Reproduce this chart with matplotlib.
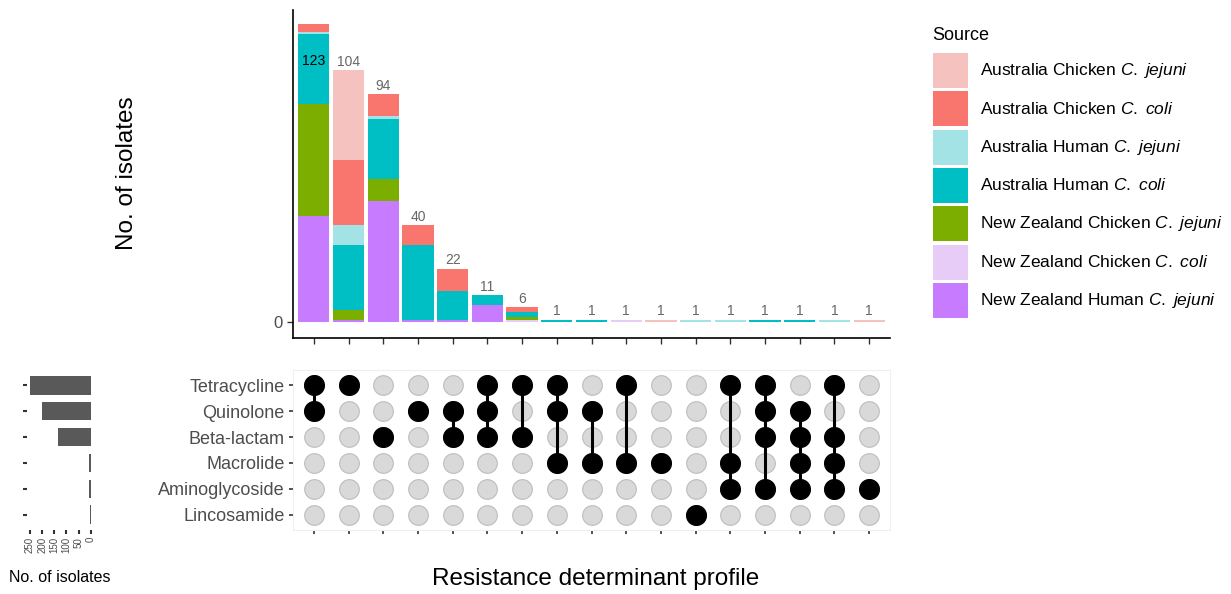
import numpy as np
import matplotlib
matplotlib.use("Agg")
import matplotlib.pyplot as plt
from matplotlib.patches import Rectangle

plt.rcParams['font.family'] = 'Liberation Sans'
plt.rcParams['mathtext.fontset'] = 'custom'
plt.rcParams['mathtext.rm'] = 'Liberation Sans'
plt.rcParams['mathtext.it'] = 'Liberation Sans:italic'

# resistance classes (matrix rows, top to bottom)
set_names = ["Tetracycline", "Quinolone", "Beta-lactam", "Macrolide",
             "Aminoglycoside", "Lincosamide"]

# profiles (one per column), as row indices into set_names
profiles = [[0, 1], [0], [2], [1], [1, 2], [0, 1, 2], [0, 2], [0, 1, 3],
            [1, 3], [0, 3], [3], [5], [0, 3, 4], [0, 1, 2, 4], [1, 2, 3, 4],
            [0, 2, 3, 4], [4]]

# counts per source and profile
au_chicken_jejuni = [0, 37, 0, 0, 0, 0, 0, 0, 0, 0, 1, 0, 0, 0, 0, 0, 1]
au_chicken_coli   = [3, 27, 9, 8, 9, 0, 2, 0, 0, 0, 0, 0, 0, 0, 0, 0, 0]
au_human_jejuni   = [1, 8, 1, 0, 0, 0, 0, 0, 0, 0, 0, 1, 1, 0, 0, 1, 0]
au_human_coli     = [29, 27, 25, 31, 12, 4, 2, 1, 1, 0, 0, 0, 0, 1, 1, 0, 0]
nz_chicken_jejuni = [46, 4, 9, 0, 0, 0, 1, 0, 0, 0, 0, 0, 0, 0, 0, 0, 0]
nz_chicken_coli   = [0, 0, 0, 0, 0, 0, 1, 0, 0, 1, 0, 0, 0, 0, 0, 0, 0]
nz_human_jejuni   = [44, 1, 50, 1, 1, 7, 0, 0, 0, 0, 0, 0, 0, 0, 0, 0, 0]

sources = [
    ("Australia Chicken $\\mathit{C.\\ jejuni}$", au_chicken_jejuni, "#F5C2C0"),
    ("Australia Chicken $\\mathit{C.\\ coli}$", au_chicken_coli, "#F8766D"),
    ("Australia Human $\\mathit{C.\\ jejuni}$", au_human_jejuni, "#A3E3E6"),
    ("Australia Human $\\mathit{C.\\ coli}$", au_human_coli, "#00BFC4"),
    ("New Zealand Chicken $\\mathit{C.\\ jejuni}$", nz_chicken_jejuni, "#7CAE00"),
    ("New Zealand Chicken $\\mathit{C.\\ coli}$", nz_chicken_coli, "#E6CCF7"),
    ("New Zealand Human $\\mathit{C.\\ jejuni}$", nz_human_jejuni, "#C77CFF"),
]

W, H = 1231, 594
fig = plt.figure(figsize=(W / 100, H / 100), dpi=100)


def rect(x0, y0, x1, y1):
    # pixel box (from top-left) -> figure fraction
    return [x0 / W, 1 - y1 / H, (x1 - x0) / W, (y1 - y0) / H]


x = np.arange(1, len(profiles) + 1)
totals = np.sum([np.array(s[1]) for s in sources], axis=0)

# ---- stacked bars on top
ax = fig.add_axes(rect(293, 10, 890, 338))
bottom = np.zeros(len(x))
for label, vals, col in reversed(sources):
    vals = np.array(vals, dtype=float)
    m = vals > 0
    ax.bar(x[m], vals[m], 0.9, bottom=bottom[m], color=col, linewidth=0)
    bottom += vals
for xi, t in zip(x, totals):
    if t == totals.max():
        ax.text(xi, 108, str(t), ha="center", va="center", fontsize=10, color="black")
    else:
        ax.text(xi, t + 3.5, str(t), ha="center", va="center", fontsize=10, color="#666666")
ax.set_xlim(0.4, 17.6)
ax.set_ylim(-6.6, 128.9)
ax.set_yticks([0])
ax.set_xticks(x)
ax.set_xticklabels([])
for s in ["top", "right"]:
    ax.spines[s].set_visible(False)
for s in ["left", "bottom"]:
    ax.spines[s].set_linewidth(1.2)
ax.tick_params(length=4, width=1, color="#333333", labelsize=12, labelcolor="#4D4D4D")
fig.text(127 / W, 1 - 173 / H, "No. of isolates", rotation=90, fontsize=17.5,
         ha="center", va="center")

# ---- combination matrix
axm = fig.add_axes(rect(293, 370, 890, 530))
gx, gy = np.meshgrid(x, np.arange(len(set_names)))
axm.scatter(gx.ravel(), gy.ravel(), s=200, c="#D9D9D9", edgecolors="#BDBDBD",
            linewidths=0.8, zorder=1)
for xi, p in zip(x, profiles):
    if len(p) > 1:
        axm.plot([xi, xi], [min(p), max(p)], color="black", lw=2.2, zorder=2)
    axm.scatter([xi] * len(p), p, s=200, c="black", zorder=3)
axm.set_xlim(0.4, 17.6)
axm.set_ylim(5.6, -0.6)
axm.set_yticks(range(len(set_names)))
axm.set_yticklabels(set_names, fontsize=13, color="#4D4D4D")
axm.set_xticks(x)
axm.set_xticklabels([])
axm.tick_params(length=3, width=1.2, color="#333333", pad=3)
for s in axm.spines.values():
    s.set_color("#EFEFEF")
    s.set_linewidth(0.8)
fig.text(596 / W, 1 - 579 / H, "Resistance determinant profile", fontsize=17.5,
         ha="center", va="center")

# ---- set sizes on the left
set_sizes = [sum(t for t, p in zip(totals, profiles) if i in p) for i in range(len(set_names))]
axs = fig.add_axes(rect(27, 370, 94, 530))
axs.barh(range(len(set_names)), set_sizes, height=0.7, color="#595959")
axs.set_xlim(262.4, -13.6)
axs.set_ylim(5.6, -0.6)
axs.set_yticks(range(len(set_names)))
axs.set_yticklabels([])
axs.set_xticks([0, 50, 100, 150, 200, 250])
axs.set_xticklabels(["0", "50", "100", "150", "200", "250"], rotation=90,
                    fontsize=7, color="#4D4D4D")
axs.tick_params(length=3, width=1.5, color="#333333", pad=2)
for s in axs.spines.values():
    s.set_visible(False)
fig.text(60 / W, 1 - 578 / H, "No. of isolates", fontsize=11.5, ha="center", va="center")

# ---- legend
fig.text(932 / W, 1 - 35 / H, "Source", fontsize=13, ha="left", va="center")
for i, (label, vals, col) in enumerate(sources):
    y0 = 53 + 38.3 * i
    fig.add_artist(Rectangle((933 / W, 1 - (y0 + 35) / H), 35 / W, 35 / H,
                             transform=fig.transFigure, facecolor=col, edgecolor="none"))
    fig.text(980 / W, 1 - (y0 + 17.5) / H, label, fontsize=12.5, ha="left", va="center")

fig.savefig("out.png", dpi=100)
